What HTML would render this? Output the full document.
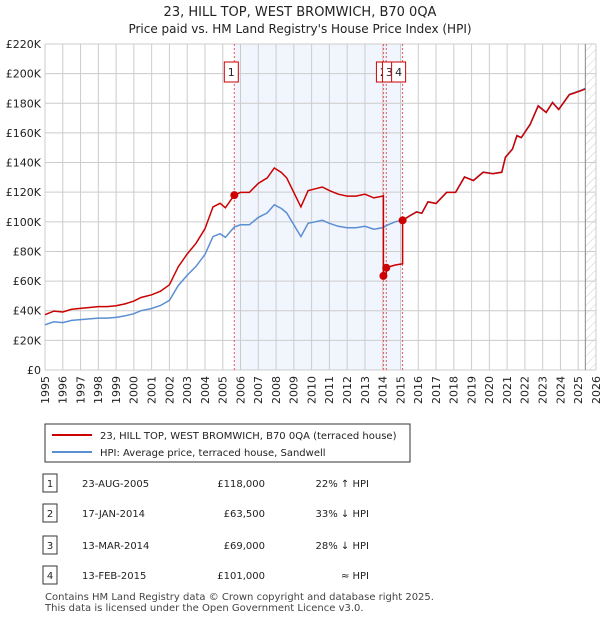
<!DOCTYPE html>
<html><head><meta charset="utf-8"><style>
body{margin:0;background:#fff;font-family:"Liberation Sans","DejaVu Sans",sans-serif;}
svg text{font-family:"DejaVu Sans","Liberation Sans",sans-serif;}
</style></head><body>
<svg width="600" height="620" xmlns="http://www.w3.org/2000/svg">
<text x="300" y="16" text-anchor="middle" font-size="13" fill="#222">23, HILL TOP, WEST BROMWICH, B70 0QA</text>
<text x="300" y="33" text-anchor="middle" font-size="12" fill="#222">Price paid vs. HM Land Registry's House Price Index (HPI)</text>
<g id="plot"></g>
<g id="legend">
<rect x="45" y="424" width="365" height="38" fill="#fff" stroke="#333"/>
<line x1="52" y1="435" x2="92" y2="435" stroke="#cc0000" stroke-width="2"/>
<text x="100" y="439" font-size="10" fill="#222">23, HILL TOP, WEST BROMWICH, B70 0QA (terraced house)</text>
<line x1="52" y1="452" x2="92" y2="452" stroke="#5b8fd4" stroke-width="2"/>
<text x="100" y="456" font-size="10" fill="#222">HPI: Average price, terraced house, Sandwell</text>
</g>
<g id="table" font-size="10" fill="#222"></g>
<text x="45" y="600" font-size="10" fill="#444">Contains HM Land Registry data © Crown copyright and database right 2025.</text>
<text x="45" y="611" font-size="10" fill="#444">This data is licensed under the Open Government Licence v3.0.</text>
</svg>
<script>
const hpiYears=[1995.0,1995.5,1996,1996.5,1997,1997.5,1998,1998.5,1999,1999.5,2000,2000.4,2001,2001.5,2002,2002.5,2003,2003.5,2004,2004.45,2004.85,2005.15,2005.65,2006,2006.5,2007,2007.5,2007.9,2008.3,2008.6,2009.0,2009.4,2009.8,2010.2,2010.6,2011.0,2011.5,2012,2012.5,2013,2013.5,2014.0,2014.3,2014.7,2015.1,2015.5,2015.9,2016.2,2016.55,2017.0,2017.6,2018.1,2018.6,2019.1,2019.65,2020.2,2020.7,2020.9,2021.3,2021.55,2021.8,2022.3,2022.75,2023.2,2023.55,2023.9,2024.5,2025.2,2025.4];
const hpiValues=[30.5,32.5,32,33.5,34,34.5,35,35,35.5,36.5,38,40,41.5,43.5,47,57,64,70,78,90,92,89.5,96.5,98,98,103,106,111.5,109,106,98,90,99,100,101,99,97,96,96,97,95,96,98,100,101,104,106.8,105.9,113.6,112.5,120,120,130.4,128,133.6,132.6,133.6,143.7,149.3,158.3,157,166,178.4,174,180.7,176,186,189,190];
const saleDates=[2005.65,2014.04,2014.2,2015.12];
const salePrices=[118,63.5,69,101];
const saleLabels=["1","2","3","4"];
const tableDates=["23-AUG-2005","17-JAN-2014","13-MAR-2014","13-FEB-2015"];
const tablePrices=["£118,000","£63,500","£69,000","£101,000"];
const tableHpi=["22% ↑ HPI","33% ↓ HPI","28% ↓ HPI","≈ HPI"];
const yTicks=[0,20,40,60,80,100,120,140,160,180,200,220];
const xTicks=[1995,1996,1997,1998,1999,2000,2001,2002,2003,2004,2005,2006,2007,2008,2009,2010,2011,2012,2013,2014,2015,2016,2017,2018,2019,2020,2021,2022,2023,2024,2025,2026];

const L=45,R=596,T=44,B=370,NOW=2025.4;
const X=y=>L+(y-1995)/(2026-1995)*(R-L);
const Y=v=>B-v/220*(B-T);
const NS="http://www.w3.org/2000/svg";
const plot=document.getElementById('plot');
function mk(tag,attrs,parent){const e=document.createElementNS(NS,tag);for(const k in attrs)e.setAttribute(k,attrs[k]);(parent||plot).appendChild(e);return e;}
let e=mk('rect',{x:X(saleDates[0]),y:T,width:X(saleDates[3])-X(saleDates[0]),height:B-T,fill:'#eef3fc',opacity:0.8});


const defs=mk('defs',{});
const pat=mk('pattern',{id:'hatch',width:6,height:6,patternUnits:'userSpaceOnUse',patternTransform:'rotate(45)'},defs);
mk('line',{x1:0,y1:0,x2:0,y2:6,stroke:'#ccc','stroke-width':1},pat);
e=mk('rect',{x:X(NOW),y:T,width:R-X(NOW),height:B-T,fill:'url(#hatch)'});


yTicks.forEach(v=>{
 e=mk('line',{x1:L,x2:R,y1:Y(v),y2:Y(v),stroke:'#ccc','stroke-width':1});
 
 
 e=mk('text',{x:L-4,y:Y(v)+4,'text-anchor':'end','font-size':11,fill:'#222'});
 e.textContent=v===0?'£0':'£'+v+'K';
 
 
});
xTicks.forEach(v=>{
 e=mk('line',{x1:X(v),x2:X(v),y1:T,y2:B,stroke:'#ccc','stroke-width':1});
 
 
 e=mk('text',{x:X(v),y:B+6,'text-anchor':'end','font-size':11,fill:'#222',transform:`rotate(-90 ${X(v)} ${B+6})`,dy:'0.35em'});
 e.textContent=v;
 
 
});
e=mk('line',{x1:X(NOW),x2:X(NOW),y1:T,y2:B,stroke:'#888','stroke-width':1});


saleDates.forEach((d,i)=>{
 e=mk('line',{x1:X(d),x2:X(d),y1:T,y2:B,stroke:'#e55','stroke-width':1,'stroke-dasharray':'2,2'});
 
 
});
function hpiAt(t){for(let i=0;i<hpiYears.length-1;i++){if(t<=hpiYears[i+1]){const f=(t-hpiYears[i])/(hpiYears[i+1]-hpiYears[i]);return hpiValues[i]+f*(hpiValues[i+1]-hpiValues[i]);}}return hpiValues[hpiValues.length-1];}
e=mk('path',{d:hpiYears.map((t,i)=>(i?'L':'M')+X(t).toFixed(1)+','+Y(hpiValues[i]).toFixed(1)).join(''),fill:'none',stroke:'#5b8fd4','stroke-width':1.5});


const pts=[];
const times=[...new Set(hpiYears.concat(saleDates))].sort((a,b)=>a-b);
times.forEach(t=>{
 let si=0;for(let i=0;i<saleDates.length;i++)if(t>=saleDates[i])si=i;
 if(saleDates.includes(t)&&si>0){
  const prev=si-1;pts.push([t,salePrices[prev]*hpiAt(t)/hpiAt(saleDates[prev])]);
 }
 pts.push([t,salePrices[si]*hpiAt(t)/hpiAt(saleDates[si])]);
});
e=mk('path',{d:pts.map((p,i)=>(i?'L':'M')+X(p[0]).toFixed(1)+','+Y(p[1]).toFixed(1)).join(''),fill:'none',stroke:'#cc0000','stroke-width':1.5});


saleDates.forEach((d,i)=>{
 e=mk('circle',{cx:X(d),cy:Y(salePrices[i]),r:4,fill:'#cc0000'});
 
 
});
[0,1,2,3].forEach(i=>{
 const cx=i===0?X(saleDates[0])-3:(i===1?X(saleDates[1])+0:(i===2?X(saleDates[1])+6:X(saleDates[3])-4));
 const g=mk('g',{});
 
 
 mk('rect',{x:cx-7,y:62,width:14,height:20,fill:'#fff',stroke:'#cc0000','stroke-width':1},g);
 const t=mk('text',{x:cx,y:76,'text-anchor':'middle','font-size':11,fill:'#222'},g);t.textContent=saleLabels[i];
});
const tb=document.getElementById('table');
const rowY=[483,513,545,575];
rowY.forEach((y,i)=>{
 const g=mk('g',{},tb);
 
 
 mk('rect',{x:43,y:y-9,width:14,height:18,fill:'#fff',stroke:'#333'},g);
 let t=mk('text',{x:50,y:y+4,'text-anchor':'middle'},g);t.textContent=saleLabels[i];
 t=mk('text',{x:82,y:y+4},g);t.textContent=tableDates[i];
 t=mk('text',{x:265,y:y+4,'text-anchor':'end'},g);t.textContent=tablePrices[i];
 t=mk('text',{x:369,y:y+4,'text-anchor':'end'},g);t.textContent=tableHpi[i];
});
</script>
</body></html>
